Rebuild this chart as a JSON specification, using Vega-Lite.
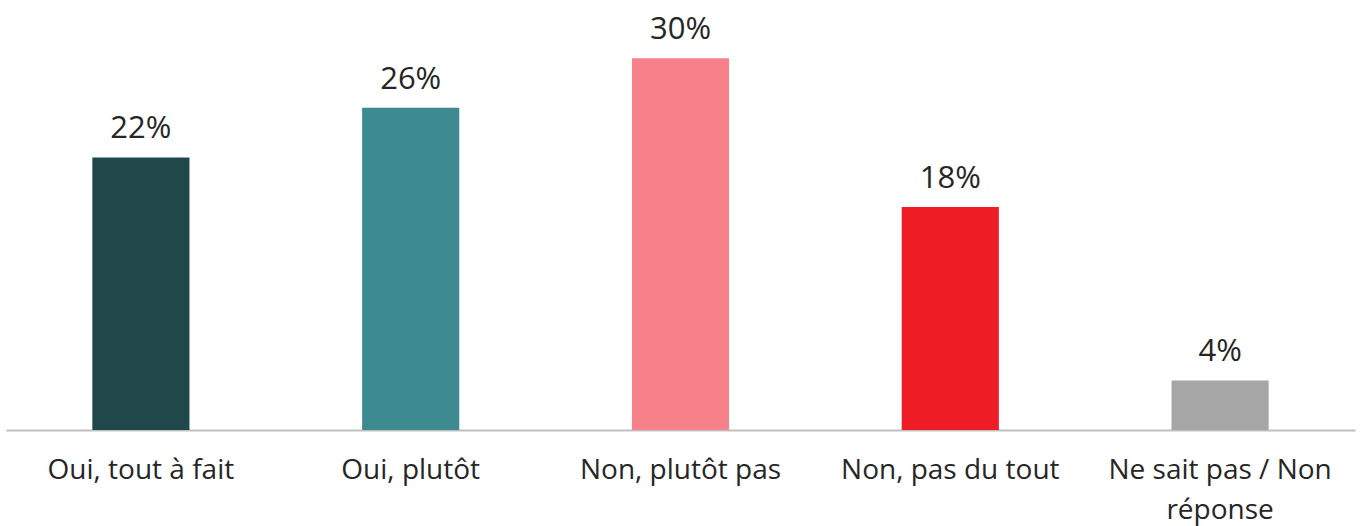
{
  "$schema": "https://vega.github.io/schema/vega-lite/v6.json",
  "width": 1349,
  "height": 430,
  "autosize": {"type": "none"},
  "padding": {"left": 6, "top": 0, "right": 5, "bottom": 96},
  "background": "white",
  "config": {"view": {"stroke": null}, "font": "Open Sans"},
  "data": {
    "values": [
      {"cat": "Oui, tout à fait", "pct": 22, "label": "22%", "color": "#20474A"},
      {"cat": "Oui, plutôt", "pct": 26, "label": "26%", "color": "#3D8B90"},
      {"cat": "Non, plutôt pas", "pct": 30, "label": "30%", "color": "#F6818A"},
      {"cat": "Non, pas du tout", "pct": 18, "label": "18%", "color": "#EE1C25"},
      {"cat": "Ne sait pas / Non réponse", "pct": 4, "label": "4%", "color": "#A6A6A6"}
    ]
  },
  "encoding": {
    "x": {
      "field": "cat",
      "type": "nominal",
      "sort": null,
      "scale": {"paddingInner": 0.64, "paddingOuter": 0.32},
      "axis": {
        "title": null,
        "labelAngle": 0,
        "labelFontSize": 28,
        "labelColor": "#262626",
        "labelBaseline": "top",
        "labelPadding": 26,
        "labelLineHeight": 40,
        "labelLimit": 400,
        "ticks": false,
        "domainColor": "#BFBFBF",
        "domainWidth": 2,
        "labelExpr": "datum.label == 'Ne sait pas / Non réponse' ? ['Ne sait pas / Non', 'réponse'] : datum.label"
      }
    },
    "y": {
      "field": "pct",
      "type": "quantitative",
      "scale": {"domain": [0, 34.7]},
      "axis": null
    }
  },
  "layer": [
    {
      "mark": {"type": "bar"},
      "encoding": {"color": {"field": "color", "type": "nominal", "scale": null}}
    },
    {
      "mark": {"type": "text", "baseline": "alphabetic", "dy": -19, "fontSize": 31, "color": "#262626"},
      "encoding": {"text": {"field": "label"}}
    }
  ]
}
